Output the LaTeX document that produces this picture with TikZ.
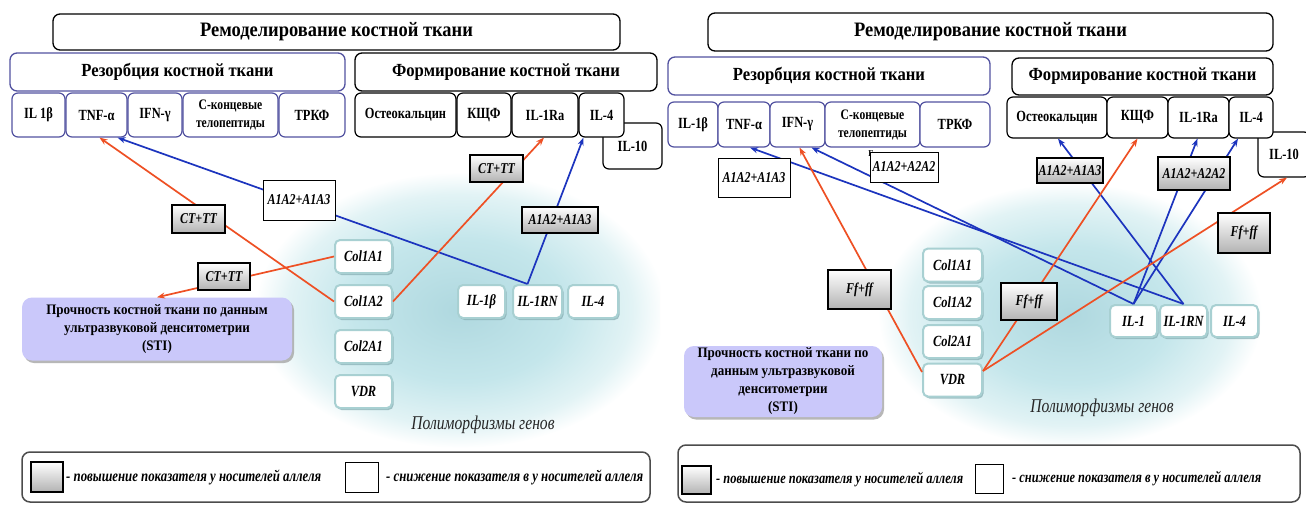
\documentclass[tikz,border=0pt]{standalone}
\usepackage{fontspec}
\setmainfont{Liberation Serif}[FakeStretch=0.9]
\newfontfamily\condserif{Liberation Serif}[FakeStretch=0.8]
\usetikzlibrary{arrows.meta,shadows}

\definecolor{redc}{RGB}{238,80,36}
\definecolor{bluec}{RGB}{28,52,190}
\definecolor{resc}{RGB}{82,82,160}
\definecolor{stic}{RGB}{202,200,250}
\definecolor{geneedge}{RGB}{168,208,210}
\definecolor{geneshadow}{RGB}{130,170,175}
\definecolor{glowA}{RGB}{175,216,223}
\definecolor{glowB}{RGB}{196,230,235}
\definecolor{glowC}{RGB}{226,243,245}
\pgfdeclareradialshading{glowshade}{\pgfpoint{0bp}{0bp}}{color(0bp)=(glowA); color(13bp)=(glowB); color(21bp)=(glowC); color(25bp)=(white); color(50bp)=(white)}

\begin{document}
\begin{tikzpicture}[x=1pt,y=-1pt,
  sz/.style 2 args={minimum width=#1, minimum height=#2},
  hdr/.style={draw=black, line width=1.3pt, rounded corners=7pt, fill=white, inner sep=0pt},
  titlebox/.style={hdr, font=\fontsize{20.5}{22}\selectfont\bfseries},
  subbox/.style={hdr, font=\fontsize{18.5}{20}\selectfont\bfseries},
  cell/.style={hdr, rounded corners=6pt, line width=1.2pt, align=center,
    font=\condserif\fontsize{15.5}{18}\selectfont\bfseries},
  twoline/.style={font=\condserif\fontsize{14.5}{18}\selectfont\bfseries},
  rescol/.style={draw=resc},
  gene/.style={draw=geneedge, line width=2pt, fill=white, rounded corners=5pt, inner sep=0pt,
    drop shadow={shadow xshift=1.5pt, shadow yshift=-2pt, fill=geneshadow, opacity=0.7},
    font=\condserif\fontsize{15.5}{17}\selectfont\bfseries\itshape},
  graylab/.style={draw=black, line width=1.9pt, top color=white, bottom color=gray!60,
    inner sep=0pt, font=\condserif\fontsize{15}{16}\selectfont\bfseries\itshape},
  whitelab/.style={draw=black, line width=0.8pt, fill=white, inner sep=0pt,
    font=\condserif\fontsize{15}{16}\selectfont\bfseries\itshape},
  sti/.style={fill=stic, rounded corners=10pt, inner sep=0pt, align=center,
    drop shadow={shadow xshift=2pt, shadow yshift=-2.5pt, fill=gray!70, opacity=0.8},
    font=\fontsize{14.5}{18}\selectfont\bfseries},
  redarr/.style={draw=redc, line width=1.7pt, -{Stealth[length=8pt,width=6pt]}},
  bluearr/.style={draw=bluec, line width=1.7pt, -{Stealth[length=8pt,width=6pt]}},
  legbox/.style={draw=gray!60!black, line width=1.5pt, rounded corners=8pt, fill=white},
  legtext/.style={inner sep=0pt, font=\condserif\fontsize{16}{17}\selectfont\bfseries\itshape},
  legtextR/.style={inner sep=0pt, font=\condserif\fontsize{15.5}{17}\selectfont\bfseries\itshape},
  polytext/.style={text=black!85, font=\condserif\fontsize{19.5}{21}\selectfont\itshape}
]
\useasboundingbox (0,0) rectangle (1306,506);
\fill[white] (0,0) rectangle (1306,506);

% soft background glows behind the gene groups
\begin{scope}
  \clip (0,0) rectangle (660,506);
  \shade[shading=glowshade] (460,310) ellipse [x radius=205, y radius=138];
\end{scope}
\shade[shading=glowshade] (1070,315) ellipse [x radius=192, y radius=132];

% ================= left scheme =================
\node[titlebox, sz={567}{36}] (titleL) at (336.5,32) {Ремоделирование костной ткани};
\node[subbox, rescol, sz={335}{38}] (resL) at (177.5,72) {Резорбция костной ткани};
\node[subbox, sz={302}{38}] (formL) at (506,72) {Формирование костной ткани};

\node[cell, sz={59}{46}] (il10L) at (632.5,146) {IL-10};

\node[cell, rescol, sz={53}{44}] (il1bL) at (38.5,115) {IL 1β};
\node[cell, rescol, sz={61}{44}] (tnfL) at (96.5,115) {TNF-α};
\node[cell, rescol, sz={54}{44}] (ifnL) at (155,115) {IFN-γ};
\node[cell, rescol, twoline, sz={95}{44}] (ctelL) at (230.5,115) {С-концевые\\телопептиды};
\node[cell, rescol, sz={66}{44}] (trkfL) at (312,115) {ТРКФ};
\node[cell, sz={101}{44}] (osteoL) at (405.5,115) {Остеокальцин};
\node[cell, sz={54}{44}] (kshfL) at (484,115) {КЩФ};
\node[cell, sz={66}{44}] (il1raL) at (545,115) {IL-1Ra};
\node[cell, sz={45}{44}] (il4fL) at (601.5,115) {IL-4};

\node[gene, sz={57}{33}] (col1a1L) at (363.5,256.5) {Col1A1};
\node[gene, sz={57}{33}] (col1a2L) at (363.5,301.5) {Col1A2};
\node[gene, sz={57}{33}] (col2a1L) at (363.5,346.5) {Col2A1};
\node[gene, sz={57}{33}] (vdrL) at (363.5,391.5) {VDR};
\node[gene, sz={47}{33}] (il1bgL) at (481.5,301.5) {IL-1β};
\node[gene, sz={49}{33}] (il1rnL) at (537.5,301.5) {IL-1RN};
\node[gene, sz={50}{33}] (il4gL) at (593,301.5) {IL-4};

\node[sti, sz={270}{63}] (stiL) at (157,329) {Прочность костной ткани по данным\\ультразвуковой денситометрии\\(STI)};

\draw[redarr] (col1a2L.west) -- ([xshift=3pt]tnfL.south);
\draw[bluearr] ([xshift=-10pt]il1rnL.north) -- ([xshift=21pt]tnfL.south);
\draw[bluearr] ([xshift=-10pt]il1rnL.north) -- ([xshift=-18pt]il4fL.south);
\draw[redarr] (col1a2L.east) -- ([xshift=-1pt]il1raL.south);
\draw[redarr] (col1a1L.west) -- (stiL.north);

\node[graylab, sz={53}{28}] (ctA) at (198.5,219) {CT+TT};
\node[whitelab, sz={72}{40}] (aaW) at (299,200) {A1A2+A1A3};
\node[graylab, sz={52}{27}] (ctB) at (224,276.5) {CT+TT};
\node[graylab, sz={53}{27}] (ctC) at (496.5,168.5) {CT+TT};
\node[graylab, sz={76}{26}] (aaG) at (560,220) {A1A2+A1A3};

\node[polytext] (polyL) at (483,425) {Полиморфизмы генов};

\node[legbox, sz={628}{50}] (legL) at (336,477) {};
\node[graylab, sz={32}{30}] (keyUpL) at (47,477) {};
\node[legtext, anchor=west] (txtUpL) at (66,477) {- повышение показателя у носителей аллеля};
\node[whitelab, sz={33}{30}] (keyDnL) at (361.5,477) {};
\node[legtext, anchor=west] (txtDnL) at (386,477) {- снижение показателя в у носителей аллеля};

% ================= right scheme =================
\node[titlebox, sz={565}{38}] (titleR) at (990.5,32) {Ремоделирование костной ткани};
\node[subbox, rescol, sz={322}{38}] (resR) at (829,76) {Резорбция костной ткани};
\node[subbox, sz={261}{37}] (formR) at (1142.5,76.5) {Формирование костной ткани};

\node[cell, sz={52}{45}] (il10R) at (1284,154.5) {IL-10};

\node[cell, rescol, sz={50}{45}] (il1bR) at (693,124.5) {IL-1β};
\node[cell, rescol, sz={52}{45}] (tnfR) at (744,124.5) {TNF-α};
\node[cell, rescol, sz={55}{45}] (ifnR) at (797.5,124.5) {IFN-γ};
\node[cell, rescol, twoline, sz={95}{45}] (ctelR) at (872.5,124.5) {С-концевые\\телопептиды};
\node[cell, rescol, sz={70}{45}] (trkfR) at (955,124.5) {ТРКФ};
\node[cell, sz={100}{41}] (osteoR) at (1057,117.5) {Остеокальцин};
\node[cell, sz={61}{41}] (kshfR) at (1137.5,117.5) {КЩФ};
\node[cell, sz={61}{41}] (il1raR) at (1198.5,117.5) {IL-1Ra};
\node[cell, sz={44}{41}] (il4fR) at (1251,117.5) {IL-4};

\node[gene, sz={59}{33}] (col1a1R) at (952.5,265) {Col1A1};
\node[gene, sz={59}{33}] (col1a2R) at (952.5,302.5) {Col1A2};
\node[gene, sz={59}{33}] (col2a1R) at (952.5,341.5) {Col2A1};
\node[gene, sz={59}{33}] (vdrR) at (952.5,380) {VDR};
\node[gene, sz={47}{32}] (il1gR) at (1133.5,321) {IL-1};
\node[gene, sz={47}{32}] (il1rnR) at (1183.5,321) {IL-1RN};
\node[gene, sz={47}{32}] (il4gR) at (1234.5,321) {IL-4};

\node[sti, sz={198}{71}] (stiR) at (783,381.5) {Прочность костной ткани по\\данным ультразвуковой\\денситометрии\\(STI)};

\draw[bluearr] (il1rnR.north) -- ([xshift=6pt]tnfR.south);
\draw[bluearr] (il1gR.north) -- ([xshift=14pt]ifnR.south);
\draw[bluearr] (il1rnR.north) -- ([xshift=1pt]osteoR.south);
\draw[bluearr] (il1gR.north) -- ([xshift=-1pt]il1raR.south);
\draw[bluearr] (il1gR.north) -- ([xshift=-13pt]il4fR.south);
\draw[redarr] ([yshift=8pt]vdrR.west) -- ([xshift=2pt]ifnR.south);
\draw[redarr] ([yshift=9pt]vdrR.east) -- (kshfR.south);
\draw[redarr] ([yshift=9pt]vdrR.east) -- ([xshift=3pt]il10R.south);

\node[inner sep=0pt, font=\fontsize{9}{10}\selectfont\bfseries] (markR) at (871,154) {Г};
\node[whitelab, sz={72}{39}] (aaW1) at (754,177.5) {A1A2+A1A3};
\node[whitelab, sz={68}{30}] (aaW2) at (904,167) {A1A2+A2A2};
\node[graylab, sz={66}{25}] (aaG1) at (1070,170.5) {A1A2+A1A3};
\node[graylab, sz={72}{33}] (aaG2) at (1194,173.5) {A1A2+A2A2};
\node[graylab, sz={63}{39}] (ffA) at (859.5,289.5) {Ff+ff};
\node[graylab, sz={56}{37}] (ffB) at (1029,301.5) {Ff+ff};
\node[graylab, sz={52}{40}] (ffC) at (1244,233) {Ff+ff};

\node[polytext] (polyR) at (1102,408) {Полиморфизмы генов};

\node[legbox, sz={622}{57}] (legR) at (989,473.5) {};
\node[graylab, sz={29}{28}] (keyUpR) at (696.5,480) {};
\node[legtextR, anchor=west] (txtUpR) at (716,480) {- повышение показателя у носителей аллеля};
\node[whitelab, sz={28}{29}] (keyDnR) at (989,479) {};
\node[legtextR, anchor=west] (txtDnR) at (1012,479) {- снижение показателя в у носителей аллеля};
\end{tikzpicture}
\end{document}
